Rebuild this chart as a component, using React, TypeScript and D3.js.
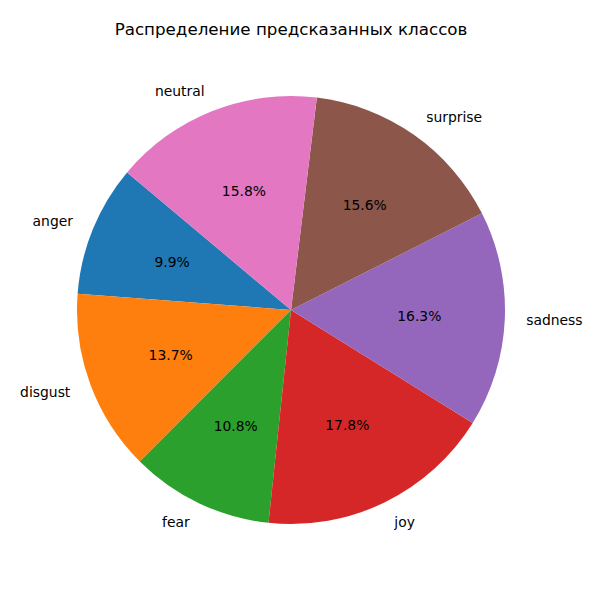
import React from 'react'
import * as d3 from 'd3'

const title = 'Распределение предсказанных классов'
const classes = ['anger', 'disgust', 'fear', 'joy', 'sadness', 'surprise', 'neutral']
const shares = [9.9, 13.7, 10.8, 17.8, 16.3, 15.6, 15.8]
const colors = ['#1f77b4', '#ff7f0e', '#2ca02c', '#d62728', '#9467bd', '#8c564b', '#e377c2']

export default function App() {
    const width = 600
    const height = 600
    const cx = 291
    const cy = 310
    const radius = 214

    // matplotlib startangle=140, counterclockwise -> d3 angles (0 = 12 o'clock, clockwise)
    const start = (90 - 140) * Math.PI / 180
    const pie = d3.pie<number>().sort(null).value(d => d)
        .startAngle(start).endAngle(start - 2 * Math.PI)
    const arcs = pie(shares)
    const arc = d3.arc<d3.PieArcDatum<number>>().innerRadius(0).outerRadius(radius)

    const font = '"DejaVu Sans", sans-serif'

    return (
        <svg width={width} height={height} style={{ position: 'absolute', left: 0, top: 0, background: '#fff' }}>
            <text x={291} y={29} textAnchor="middle" dominantBaseline="central"
                fontFamily={font} fontSize={16.7} fill="#000">{title}</text>
            <g transform={`translate(${cx},${cy})`}>
                {arcs.map((a, i) => (
                    <path key={classes[i]} d={arc(a) || ''} fill={colors[i]} />
                ))}
                {arcs.map((a, i) => {
                    const mid = (a.startAngle + a.endAngle) / 2
                    const sx = Math.sin(mid)
                    const sy = -Math.cos(mid)
                    const lx = sx * radius * 1.1
                    const ly = sy * radius * 1.1
                    const px = sx * radius * 0.6
                    const py = sy * radius * 0.6
                    return (
                        <g key={'t' + classes[i]}>
                            <text x={lx} y={ly} textAnchor={lx > 0 ? 'start' : 'end'} dominantBaseline="central"
                                fontFamily={font} fontSize={13.9} fill="#000">{classes[i]}</text>
                            <text x={px} y={py} textAnchor="middle" dominantBaseline="central"
                                fontFamily={font} fontSize={13.9} fill="#000">{shares[i].toFixed(1)}%</text>
                        </g>
                    )
                })}
            </g>
        </svg>
    )
}
